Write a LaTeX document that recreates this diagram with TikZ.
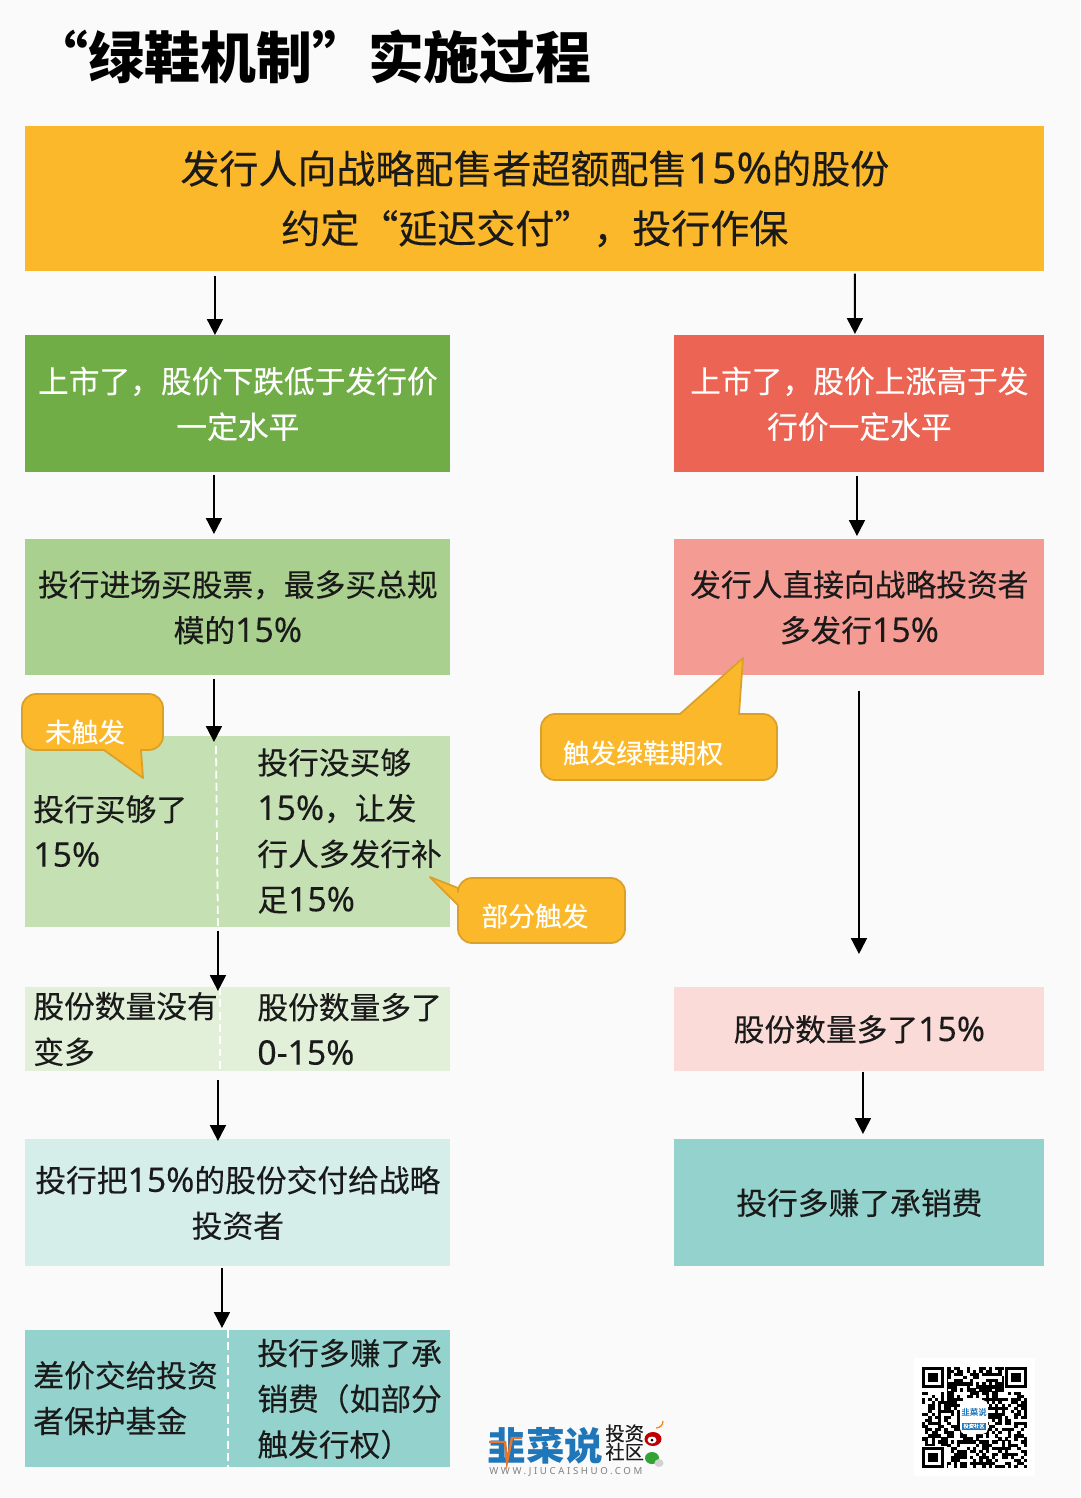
\documentclass[tikz,border=0pt]{standalone}
\usepackage{fontspec}
\setmainfont{Noto Sans CJK SC}[UprightFeatures={FakeBold=0.22}]
\newfontfamily\numfont[Scale=1.1,FakeBold=0.22]{Noto Sans}
\newfontfamily\urlfont[LetterSpace=27]{Noto Sans}
\newcommand{\num}[1]{{\numfont #1}}
\usetikzlibrary{arrows.meta}
\definecolor{pagebg}{HTML}{FAFAFA}
\definecolor{amber}{HTML}{FBB82B}
\definecolor{amberedge}{HTML}{D9A02A}
\definecolor{leaf}{HTML}{70AD47}
\definecolor{leafa}{HTML}{A9D08E}
\definecolor{leafb}{HTML}{C5E0B3}
\definecolor{leafc}{HTML}{E2EFD9}
\definecolor{coral}{HTML}{EC6453}
\definecolor{corala}{HTML}{F49C94}
\definecolor{coralb}{HTML}{FADBD8}
\definecolor{tealb}{HTML}{D5EEEA}
\definecolor{teala}{HTML}{94D2CD}
\definecolor{ink}{HTML}{1A1A1A}
\definecolor{logoblue}{HTML}{1F76B8}
\definecolor{logoorange}{HTML}{E9752A}
\tikzset{
  panel/.style 2 args={anchor=north west,inner sep=0pt,align=center,text=ink,
    minimum width=#1*0.02cm,minimum height=#2*0.02cm,font=\fontsize{17.5}{26}\selectfont},
  column/.style={anchor=west,inner sep=0pt,align=left,text=ink,font=\fontsize{17.5}{26}\selectfont},
  flow/.style={-{Triangle[length=9pt,width=9pt]},line width=1.1pt,black},
  seam/.style={white,line width=1pt,dash pattern=on 4.5pt off 2.5pt},
  bubble/.style={fill=amber,draw=amberedge,line width=1pt,line join=round},
  bubbletext/.style={inner sep=0pt,text=white,font=\fontsize{#1}{#1}\selectfont},
}
\begin{document}
\begin{tikzpicture}[x=0.02cm,y=-0.02cm]
\useasboundingbox (0,0) rectangle (1080,1498);
\fill[pagebg] (0,0) rectangle (1080,1498);
\node[anchor=west,inner sep=0pt,font=\fontsize{31.8}{32}\selectfont\bfseries,text=black] (title) at (32.5,57) {“绿鞋机制”实施过程};
% top box
\node[panel={1019}{145},fill=amber,font=\fontsize{22.2}{34}\selectfont] (offer) at (25,126) {发行人向战略配售者超额配售\num{15\%}的股份\\约定“延迟交付”，投行作保};
% left branch
\node[panel={425}{137},fill=leaf,text=white] (fall) at (25,335) {上市了，股价下跌低于发行价\\一定水平};
\node[panel={425}{136},fill=leafa] (buy) at (25,539) {投行进场买股票，最多买总规\\模的\num{15\%}};
\node[panel={425}{191},fill=leafb] (split) at (25,736) {};
\node[column] (enough) at (33,831) {投行买够了\\\num{15\%}};
\node[column] (short) at (257,831) {投行没买够\\\num{15\%}，让发\\行人多发行补\\足\num{15\%}};
\node[panel={425}{84},fill=leafc] (count) at (25,987) {};
\node[column] (same) at (33,1029) {股份数量没有\\变多};
\node[column] (more) at (257,1029) {股份数量多了\\\num{0-15\%}};
\node[panel={425}{127},fill=tealb] (deliver) at (25,1139) {投行把\num{15\%}的股份交付给战略\\投资者};
\node[panel={425}{137},fill=teala] (final) at (25,1330) {};
\node[column] (fund) at (33,1398) {差价交给投资\\者保护基金};
\node[column] (fee) at (257,1399) {投行多赚了承\\销费（如部分\\触发行权）};
% right branch
\node[panel={370}{137},fill=coral,text=white] (rise) at (674,335) {上市了，股价上涨高于发\\行价一定水平};
\node[panel={370}{136},fill=corala] (issue) at (674,539) {发行人直接向战略投资者\\多发行\num{15\%}};
\node[panel={370}{84},fill=coralb] (extra) at (674,987) {股份数量多了\num{15\%}};
\node[panel={370}{127},fill=teala] (profit) at (674,1139) {投行多赚了承销费};
% seams
\draw[seam] ([xshift=3.82cm,yshift=-0.2cm]split.north west) -- ([xshift=3.86cm]split.south west);
\draw[seam] ([xshift=3.9cm]count.north west) -- ([xshift=3.9cm]count.south west);
\draw[seam] ([xshift=4.06cm]final.north west) -- ([xshift=4.06cm]final.south west);
% arrows
\draw[flow,shorten <=0.08cm] ([xshift=3.8cm]offer.south west) -- ([xshift=3.8cm]fall.north west);
\draw[flow,shorten <=0.04cm,shorten >=0.02cm] ([xshift=16.6cm]offer.south west) -- ([xshift=3.62cm]rise.north west);
\draw[flow,shorten <=0.04cm,shorten >=0.1cm] ([xshift=3.78cm]fall.south west) -- ([xshift=3.78cm]buy.north west);
\draw[flow,shorten <=0.06cm,shorten >=0.06cm] ([xshift=3.66cm]rise.south west) -- ([xshift=3.66cm]issue.north west);
\draw[flow,shorten <=0.06cm,shorten >=-0.12cm] ([xshift=3.78cm]buy.south west) -- ([xshift=3.78cm]split.north west);
\draw[flow,shorten <=0.3cm,shorten >=0.66cm] ([xshift=3.7cm]issue.south west) -- ([xshift=3.7cm]extra.north west);
\draw[flow,shorten <=0.06cm,shorten >=-0.08cm] ([xshift=3.86cm]split.south west) -- ([xshift=3.86cm]count.north west);
\draw[flow,shorten >=0.1cm] ([xshift=3.78cm]extra.south west) -- ([xshift=3.78cm]profit.north west);
\draw[flow,shorten <=0.16cm,shorten >=-0.04cm] ([xshift=3.86cm]count.south west) -- ([xshift=3.86cm]deliver.north west);
\draw[flow,shorten <=0.02cm,shorten >=0.04cm] ([xshift=3.94cm]deliver.south west) -- ([xshift=3.94cm]final.north west);
% callouts
\draw[bubble] (104,750) [rounded corners=8pt] -- (22,750) -- (22,694) -- (163,694) -- (163,750) [sharp corners] -- (141,750) -- (143,778) -- cycle;
\node[bubbletext=15.2] (untouched) at (85,732) {未触发};
\draw[bubble] (680,714) [rounded corners=8pt] -- (541,714) -- (541,780) -- (777,780) -- (777,714) [sharp corners] -- (739,714) -- (743,658) -- cycle;
\node[bubbletext=15.2] (touched) at (643,753) {触发绿鞋期权};
\draw[bubble] (458,888) [rounded corners=8pt] -- (458,878) -- (625,878) -- (625,943) -- (458,943) [sharp corners] -- (458,905) -- (430,877) -- cycle;
\node[bubbletext=15.2] (partly) at (535,916) {部分触发};
% logo
\node[anchor=west,inner sep=0pt,text=logoblue,font=\fontsize{22}{22}\selectfont\bfseries] (logo) at (487,1446) {韭菜说};
\draw[logoorange,line width=1.4pt] (489,1442) -- (505,1442) -- (507,1462) -- (512,1438) -- (522,1438);
\node[anchor=north west,inner sep=0pt,align=left,text=ink,font=\fontsize{11}{10.6}\selectfont] (logoside) at (605,1424) {投资\\社区};
\node[anchor=west,inner sep=0pt,text=gray,font=\fontsize{5.5}{5.5}\selectfont\urlfont] (logourl) at (489,1472) {WWW.JIUCAISHUO.COM};
\fill[red!75!black] (653,1439) ellipse (8.5 and 7);
\fill[white] (652,1440) ellipse (4.5 and 3.5);
\fill[black] (652,1440) circle (1.5);
\draw[orange,line width=0.7pt] (656,1428) arc (90:0:7);
\fill[green!55!black!80] (652,1458) ellipse (7 and 6);
\fill[gray!35] (659,1463) ellipse (4.5 and 4);
% qr code
\fill[white] (914,1358) rectangle (1035,1476);
\pgfmathsetseed{2024}
\foreach \i in {0,...,32}{
  \foreach \j in {0,...,32}{
    \pgfmathrandominteger{\q}{0}{9}
    \ifnum\q<5
      \fill[black] (922+\i*3.18,1367+\j*3.06) rectangle ++(3.3,3.2);
    \fi
  }
}
\foreach \a/\b in {922/1367,1004.7/1367,922/1446.6}{
  \fill[white] (\a-1,\b-1) rectangle ++(26.4,25.5);
  \fill[black] (\a,\b) rectangle ++(22.3,21.4);
  \fill[white] (\a+3.2,\b+3.1) rectangle ++(15.9,15.2);
  \fill[black] (\a+6.4,\b+6.1) rectangle ++(9.5,9.2);
}
\fill[white,rounded corners=3pt] (960,1400) rectangle (988,1434);
\node[inner sep=0pt,text=logoblue,font=\fontsize{4.8}{4.8}\selectfont] (qrname) at (974,1412) {韭菜说};
\node[inner sep=0.6pt,fill=logoblue,text=white,font=\fontsize{3}{3}\selectfont] (qrtag) at (974,1426) {投资社区};
\end{tikzpicture}
\end{document}
